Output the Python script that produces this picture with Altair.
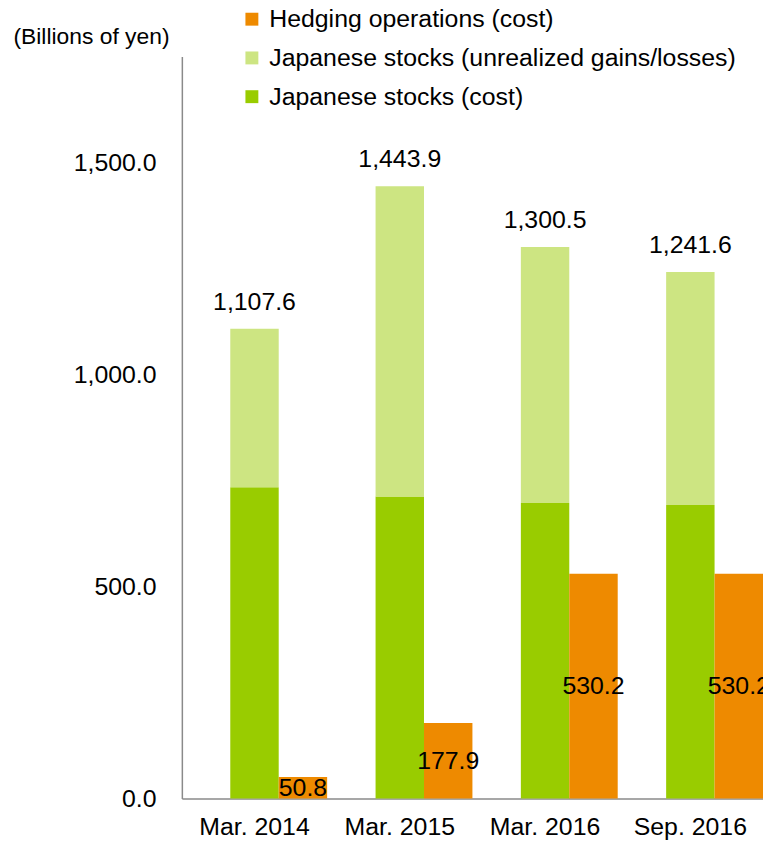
import altair as alt
import pandas as pd

periods = ["Mar. 2014", "Mar. 2015", "Mar. 2016", "Sep. 2016"]
stock_cost = [734.0, 712.0, 697.0, 692.0]
stock_total = [1107.6, 1443.9, 1300.5, 1241.6]
hedge_cost = [50.8, 177.9, 530.2, 530.2]

S_HEDGE = "Hedging operations (cost)"
S_UNREAL = "Japanese stocks (unrealized gains/losses)"
S_COST = "Japanese stocks (cost)"

FONT = "Liberation Sans"
FS = 25
ORANGE = "#EE8A00"
LIGHT = "#CDE582"
GREEN = "#99CC00"

rows = []
for p, c, t in zip(periods, stock_cost, stock_total):
    rows.append({"period": p, "series": S_COST, "value": c, "ord": 0, "slot": "stock"})
    rows.append({"period": p, "series": S_UNREAL, "value": round(t - c, 1), "ord": 1, "slot": "stock"})
stock_df = pd.DataFrame(rows)
total_df = pd.DataFrame({"period": periods, "total": stock_total, "slot": "stock"})
hedge_df = pd.DataFrame({"period": periods, "value": hedge_cost, "series": S_HEDGE, "slot": "hedge"})

x_enc = alt.X("period:N", sort=periods, title=None,
              scale=alt.Scale(paddingInner=0, paddingOuter=0),
              axis=alt.Axis(labelAngle=0, ticks=False, labelPadding=16, labelFontSize=FS,
                            labelFont=FONT, labelColor="#000000", domainColor="#8A8A8A",
                            domainWidth=1.5))
xoff = alt.XOffset("slot:N", scale=alt.Scale(domain=["blank", "stock", "hedge"],
                                              paddingInner=0, paddingOuter=0))
y_scale = alt.Scale(domain=[0, 1750], nice=False, zero=True)
y_axis = alt.Axis(values=[0, 500, 1000, 1500], format=",.1f", grid=False, ticks=False,
                  labelPadding=26, labelFontSize=FS, labelFont=FONT, labelColor="#000000",
                  domainColor="#8A8A8A", domainWidth=1.5,
                  title="(Billions of yen)", titleAngle=0, titleAlign="left",
                  titleBaseline="middle", titleX=-170, titleY=-20, titleFontSize=23,
                  titleFont=FONT, titleFontWeight="normal", titleColor="#000000")

color = alt.Color("series:N",
                  scale=alt.Scale(domain=[S_HEDGE, S_UNREAL, S_COST], range=[ORANGE, LIGHT, GREEN]),
                  legend=alt.Legend(title=None, orient="none", legendX=58, legendY=-50,
                                    symbolType="square", symbolSize=169, symbolStrokeWidth=0,
                                    labelFontSize=FS, labelFont=FONT, labelColor="#000000",
                                    labelOffset=5, rowPadding=13, padding=0, labelLimit=600))

stock_bars = alt.Chart(stock_df).mark_bar().encode(
    x=x_enc, xOffset=xoff,
    y=alt.Y("value:Q", stack="zero", scale=y_scale, axis=y_axis),
    color=color,
    order=alt.Order("ord:Q"),
)

hedge_bars = alt.Chart(hedge_df).mark_bar().encode(
    x=x_enc, xOffset=xoff,
    y=alt.Y("value:Q", scale=y_scale, axis=y_axis),
    color=color,
)

total_text = alt.Chart(total_df).mark_text(baseline="bottom", dy=-14, fontSize=FS, font=FONT,
                                           color="#000000").encode(
    x=x_enc, xOffset=xoff,
    y=alt.Y("total:Q", scale=y_scale, axis=y_axis),
    text=alt.Text("total:Q", format=",.1f"),
)

hedge_text = alt.Chart(hedge_df).transform_calculate(mid="datum.value / 2").mark_text(
    baseline="middle", fontSize=FS, font=FONT, color="#000000").encode(
    x=x_enc, xOffset=xoff,
    y=alt.Y("mid:Q", scale=y_scale, axis=y_axis),
    text=alt.Text("value:Q", format=",.1f"),
)

chart = alt.layer(stock_bars, hedge_bars, total_text, hedge_text).properties(
    width=585, height=747,
    autosize=alt.AutoSizeParams(type="none"),
    padding={"left": 175, "top": 46, "right": 0, "bottom": 42},
).configure_view(stroke=None)

chart.save("out.html", embed_options={"renderer": "svg", "actions": False})
